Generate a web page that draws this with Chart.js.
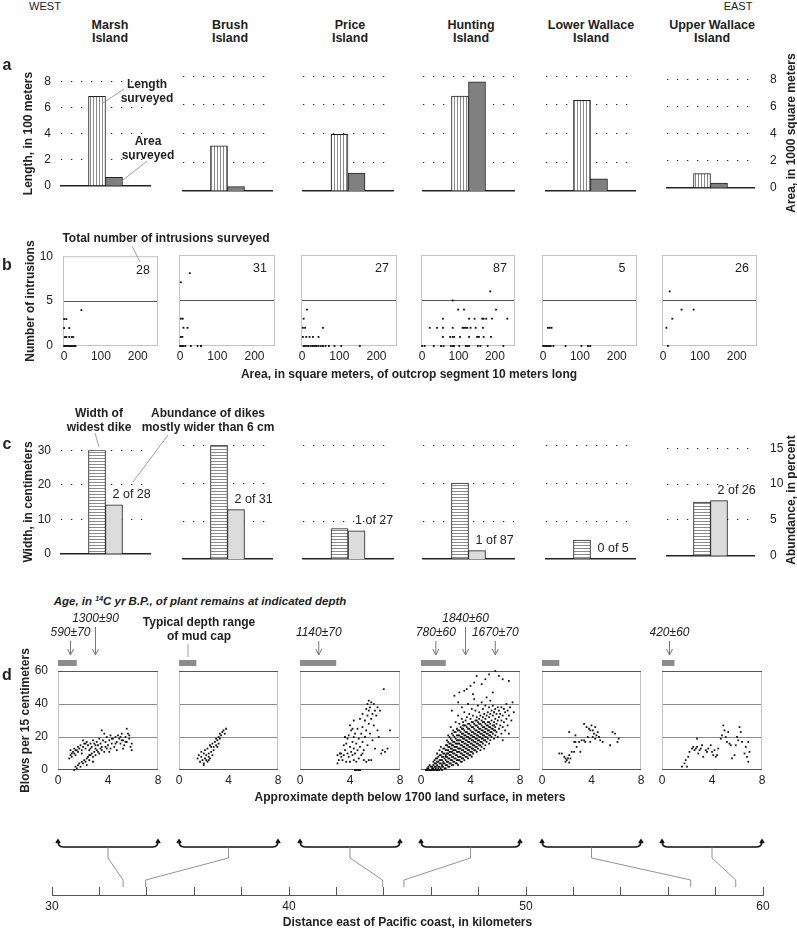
<!DOCTYPE html>
<html>
<head>
<meta charset="utf-8">
<script src="https://cdn.jsdelivr.net/npm/chart.js@4.4.1/dist/chart.umd.min.js"></script>
<style>
  body { margin: 0; width: 797px; height: 930px; position: relative; overflow: hidden; background: #fff;
         font-family: "Liberation Sans", Arial, sans-serif; color: #222; }
  .t { position: absolute; white-space: nowrap; text-align: center; font-size: 12px; line-height: 14px;
       transform: translate(-50%, -50%); }
  .b { font-weight: bold; }
  .r { transform: translate(-50%, -50%) rotate(-90deg); }
  sup { font-size: 7px; vertical-align: 4px; line-height: 0; }
  svg { position: absolute; left: 0; top: 0; }
</style>
</head>
<body>
<script>
// ---- data ----
const islands = ["Marsh Island", "Brush Island", "Price Island", "Hunting Island", "Lower Wallace Island", "Upper Wallace Island"];
const lengthSurveyed = [6.85, 3.15, 3.95, 6.6, 6.3, 1.05];   // 100 m
const areaSurveyed = [0.65, 0.3, 1.25, 7.6, 0.85, 0.35];     // 1000 m2
const totalIntrusions = [28, 31, 27, 87, 5, 26];
const widestDike = [30, 30, 8, 20, 5, 15];                   // cm
const wideDikeCount = [2, 2, 1, 1, 0, 2];
const abundancePct = [7.1, 6.5, 3.7, 1.1, 0, 7.7];
const distanceKm = [33.0, 33.95, 43.95, 44.85, 56.95, 58.85];
const mudCapDepth = [[0, 1.5], [0, 1.4], [0, 2.9], [0, 2.0], [0, 1.4], [0, 1.0]];
const ageText = [["590±70", "1300±90"], [], ["1140±70"], ["780±60", "1840±60", "1670±70"], [], ["420±60"]];
const ageDepth = [[1.0, 3.0], [], [1.5], [1.2, 3.6, 6.0], [], [0.6]];

// area of outcrop segment (m2), number of intrusions
const intrusionsMarsh = [[0,3],[6,3],[0,2],[14,2],[2,1],[6,1],[14,1],[21,1],[25,1],[0,0],[3,0],[6,0],[9,0],[12,0],[16,0],[19,0],[23,0],[27,0],[31,0],[47,4]];
const intrusionsBrush = [[2,7],[26,8],[2,3],[7,3],[9,2],[20,2],[2,1],[6,1],[0,0],[3,0],[6,0],[9,0],[14,0],[29,0],[47,0],[56,0]];
const intrusionsPrice = [[13,4],[4,3],[2,2],[8,2],[56,2],[2,1],[11,1],[20,1],[29,1],[44,1],[4,0],[7,0],[11,0],[16,0],[22,0],[27,0],[31,0],[35,0],[39,0],[44,0],[50,0],[56,0],[63,0],[72,0],[87,0],[105,0],[155,0]];
const intrusionsHunting = [[187,6],[84,5],[99,4],[115,4],[203,4],[57,3],[129,3],[144,3],[165,3],[169,3],[176,3],[192,3],[234,3],
  [21,2],[41,2],[57,2],[84,2],[111,2],[115,2],[120,2],[124,2],[133,2],[147,2],[167,2],
  [57,1],[77,1],[84,1],[88,1],[104,1],[129,1],[151,1],[156,1],[169,1],[189,1],
  [0,0],[7,0],[32,0],[52,0],[59,0],[79,0],[84,0],[88,0],[102,0],[120,0],[124,0],[129,0],[153,0],[160,0],[180,0],[223,0]];
const intrusionsLower = [[13,2],[18,2],[23,2],[0,0],[4,0],[8,0],[12,0],[16,0],[21,0],[28,0],[61,0],[104,0],[122,0],[128,0]];
const intrusionsUpper = [[18,6],[50,4],[83,4],[25,3],[9,2],[13,0]];

// depth (m), blows per 15 cm
const blowsMarsh = [[0.9,7],[1.0,9],[1.0,12],[1.1,8],[1.2,11],[1.3,10],[1.3,13],[1.4,9],[1.5,12],[1.6,14],[1.6,11],[1.7,13],[1.8,15],[1.9,12],[2.0,18],[2.0,14],[2.1,16],[2.2,13],[2.3,17],[2.4,15],[2.5,12],[2.6,16],[2.7,14],[2.8,18],[2.9,16],[3.0,13],[3.1,17],[3.2,15],[3.3,19],[3.4,16],[3.5,24],[3.5,14],[3.6,18],[3.7,22],[3.8,17],[3.9,20],[4.0,15],[4.1,18],[4.2,21],[4.3,16],[4.4,19],[4.5,14],[4.6,20],[4.7,17],[4.8,21],[4.9,19],[5.0,16],[5.0,20],[5.1,22],[5.2,18],[5.3,15],[5.4,20],[5.5,25],[5.5,17],[5.6,22],[5.7,19],[5.8,14],[5.9,12],[5.9,16],[5.2,13],[4.7,12],[4.2,13],
  [1.3,0],[1.4,2],[1.5,1],[1.6,3],[1.7,4],[1.8,2],[1.9,5],[2.0,4],[2.1,6],[2.2,5],[2.3,7],[2.4,8],[2.5,6],[2.6,9],[2.7,10],[2.8,8],[2.9,11],[3.0,9],[3.1,12],[3.3,10],[3.5,12],[3.7,11],[3.9,13],[4.1,11],[2.3,3],[2.8,5],
  [1.1,10],[1.4,12],[1.9,10],[2.2,16],[2.6,13],[3.0,15],[3.4,13],[3.8,14],[4.3,19],[4.6,16],[5.1,18],[5.4,17],[5.7,21],[3.2,11],[2.5,9]];
const blowsBrush = [[1.5,7],[1.6,9],[1.7,5],[1.8,11],[1.8,8],[1.9,6],[2.0,4],[2.0,10],[2.1,12],[2.1,7],[2.2,6],[2.2,9],[2.3,5],[2.3,13],[2.4,8],[2.4,10],[2.5,7],[2.5,15],[2.6,11],[2.6,14],[2.7,9],[2.7,16],[2.8,12],[2.8,14],[2.9,17],[3.0,15],[3.0,19],[3.1,18],[3.1,14],[3.2,20],[3.2,16],[3.3,22],[3.3,19],[3.4,21],[3.5,23],[3.6,24],[3.7,22],[3.8,25],[2.0,3],[2.4,6]];
const blowsPrice = [[3.0,4],[3.1,6],[3.0,9],[3.2,10],[3.3,8],[3.3,10],[3.4,6],[3.5,9],[3.5,15],[3.6,12],[3.7,16],[3.7,5],[3.8,19],[3.8,10],[3.9,21],[3.9,8],[4.0,14],[4.0,5],[4.1,24],[4.1,11],[4.2,25],[4.2,17],[4.2,9],[4.3,30],[4.3,20],[4.3,13],[4.3,6],[4.4,0],[4.5,0],[4.6,0],[4.7,0],[4.8,0],[4.4,22],[4.4,10],[4.5,16],[4.5,5],[4.6,25],[4.6,12],[4.7,19],[4.7,7],[4.8,31],[4.8,14],[4.9,22],[4.9,9],[5.0,34],[5.0,26],[5.0,17],[5.1,12],[5.1,6],[5.2,30],[5.2,20],[5.3,37],[5.3,24],[5.3,5],[5.4,40],[5.4,33],[5.4,15],[5.5,42],[5.5,36],[5.5,28],[5.5,6],[5.6,38],[5.6,22],[5.7,41],[5.7,31],[5.7,6],[5.8,34],[5.8,18],[5.9,40],[5.9,27],[6.0,36],[6.0,13],[6.1,33],[6.2,38],[6.3,20],[6.4,36],[6.5,10],[6.6,12],[6.7,49],[6.8,11],[7.0,13],[7.2,24],[6.2,24],[5.0,10],[4.0,27],[3.6,20]];
const blowsHunting = [[0.4,0],[0.5,0],[0.6,0],[0.7,0],[0.8,0],[0.9,0],[1.0,0],[1.1,0],[1.2,0],[1.3,0],[1.4,0],[1.5,0],[1.7,0],[0.6,1],[0.8,2],[0.9,1],[1.0,3],[1.1,2],[1.2,4],[0.7,3],
  [1.1,6],[1.2,1],[1.3,3],[1.3,7],[1.4,2],[1.4,5],[1.5,4],[1.5,9],[1.6,1],[1.6,6],[1.7,3],[1.7,8],[1.7,11],[1.8,2],[1.8,5],[1.8,10],[1.9,4],[1.9,7],[1.9,13],[2.0,1],[2.0,6],[2.0,9],[2.0,15],[1.3,10],[1.5,12],[1.6,14],
  [2.1,3],[2.1,8],[2.1,12],[2.1,18],[2.2,5],[2.2,10],[2.2,14],[2.2,21],[2.3,2],[2.3,7],[2.3,11],[2.3,16],[2.4,4],[2.4,9],[2.4,13],[2.4,19],[2.4,26],[2.5,6],[2.5,11],[2.5,15],[2.5,22],[2.6,3],[2.6,8],[2.6,12],[2.6,17],[2.6,24],[2.7,5],[2.7,10],[2.7,14],[2.7,20],[2.8,7],[2.8,12],[2.8,16],[2.8,23],[2.8,29],[2.9,4],[2.9,9],[2.9,14],[2.9,18],[2.9,25],[3.0,6],[3.0,11],[3.0,16],[3.0,21],[3.0,33],
  [3.1,8],[3.1,13],[3.1,18],[3.1,24],[3.1,28],[3.2,5],[3.2,10],[3.2,15],[3.2,20],[3.2,26],[3.3,7],[3.3,12],[3.3,17],[3.3,22],[3.3,31],[3.3,38],[3.4,9],[3.4,14],[3.4,19],[3.4,25],[3.4,29],[3.5,6],[3.5,11],[3.5,16],[3.5,21],[3.5,27],[3.5,35],[3.6,8],[3.6,13],[3.6,18],[3.6,23],[3.6,30],[3.7,10],[3.7,15],[3.7,20],[3.7,26],[3.7,32],[3.8,7],[3.8,12],[3.8,17],[3.8,22],[3.8,28],[3.8,40],[3.9,9],[3.9,14],[3.9,19],[3.9,25],[3.9,34],[4.0,11],[4.0,16],[4.0,21],[4.0,27],[4.0,31],
  [4.1,8],[4.1,13],[4.1,18],[4.1,23],[4.1,29],[4.1,37],[4.2,10],[4.2,15],[4.2,20],[4.2,26],[4.2,33],[4.3,12],[4.3,17],[4.3,22],[4.3,28],[4.3,43],[4.4,14],[4.4,19],[4.4,24],[4.4,30],[4.4,36],[4.5,11],[4.5,16],[4.5,21],[4.5,27],[4.5,32],[4.6,13],[4.6,18],[4.6,23],[4.6,29],[4.6,39],[4.7,15],[4.7,20],[4.7,25],[4.7,31],[4.7,35],[4.8,12],[4.8,17],[4.8,22],[4.8,28],[4.8,33],[4.9,14],[4.9,19],[4.9,24],[4.9,30],[4.9,41],[5.0,16],[5.0,21],[5.0,26],[5.0,32],[5.0,37],
  [5.1,13],[5.1,18],[5.1,23],[5.1,29],[5.1,34],[5.2,15],[5.2,20],[5.2,25],[5.2,31],[5.2,39],[5.3,17],[5.3,22],[5.3,27],[5.3,33],[5.3,44],[5.4,19],[5.4,24],[5.4,29],[5.4,35],[5.5,16],[5.5,21],[5.5,26],[5.5,32],[5.5,38],[5.6,18],[5.6,23],[5.6,28],[5.6,34],[5.6,42],[5.7,20],[5.7,25],[5.7,30],[5.7,36],[5.8,22],[5.8,27],[5.8,33],[5.8,39],[5.9,19],[5.9,24],[5.9,29],[5.9,35],[6.0,21],[6.0,26],[6.0,31],[6.0,37],
  [6.1,23],[6.1,28],[6.1,34],[6.2,20],[6.2,30],[6.2,38],[6.3,25],[6.3,32],[6.3,36],[6.4,27],[6.4,34],[6.5,22],[6.5,30],[6.5,38],[6.6,26],[6.6,33],[6.7,29],[6.7,37],[6.8,24],[6.8,35],[6.9,31],[6.9,40],[7.0,27],[7.0,36],[7.1,33],[7.2,38],[7.3,30],[7.4,41],[7.5,35],[6.6,18],[7.1,22],
  [2.7,45],[3.1,47],[3.5,48],[3.7,49],[4.0,51],[4.3,53],[4.5,57],[4.9,52],[5.2,55],[5.5,58],[6.0,60],[6.3,57],[6.6,55],[7.1,54],[2.5,36],[3.0,41],[4.2,46],[5.8,47],
  [0.5,1],[0.6,2],[0.8,0],[0.9,2],[1.0,1],[1.0,5],[1.1,4],[1.2,2],[1.2,7],[1.3,5],[1.4,1],[1.4,8],[1.5,2],[1.5,6],[1.6,4],[1.6,9],[1.7,2],[1.7,6],[1.8,4],[1.8,8],[1.8,13],[1.9,1],[1.9,10],[2.0,3],[2.0,8],[2.0,12],
  [2.1,5],[2.1,10],[2.1,15],[2.2,2],[2.2,7],[2.2,12],[2.2,17],[2.3,4],[2.3,9],[2.3,14],[2.3,20],[2.4,6],[2.4,11],[2.4,16],[2.5,3],[2.5,8],[2.5,13],[2.5,18],[2.6,5],[2.6,10],[2.6,15],[2.6,21],[2.7,7],[2.7,12],[2.7,17],[2.7,23],[2.8,4],[2.8,9],[2.8,14],[2.8,19],[2.9,6],[2.9,11],[2.9,16],[2.9,21],[3.0,3],[3.0,8],[3.0,13],[3.0,18],[3.0,24],
  [3.1,6],[3.1,11],[3.1,16],[3.1,21],[3.2,8],[3.2,13],[3.2,18],[3.2,23],[3.3,5],[3.3,10],[3.3,15],[3.3,20],[3.3,25],[3.4,7],[3.4,12],[3.4,17],[3.4,22],[3.4,27],[3.5,9],[3.5,14],[3.5,19],[3.5,24],[3.6,11],[3.6,16],[3.6,21],[3.6,27],[3.7,8],[3.7,13],[3.7,18],[3.7,23],[3.8,10],[3.8,15],[3.8,20],[3.8,25],[3.9,12],[3.9,17],[3.9,22],[3.9,28],[4.0,9],[4.0,14],[4.0,19],[4.0,24],
  [4.1,11],[4.1,16],[4.1,21],[4.1,26],[4.2,13],[4.2,18],[4.2,23],[4.2,29],[4.3,15],[4.3,20],[4.3,25],[4.4,12],[4.4,17],[4.4,22],[4.4,27],[4.5,14],[4.5,19],[4.5,24],[4.5,30],[4.6,16],[4.6,21],[4.6,26],[4.7,18],[4.7,23],[4.7,28],[4.8,15],[4.8,20],[4.8,25],[4.9,17],[4.9,22],[4.9,27],[5.0,19],[5.0,24],[5.0,29],
  [5.1,21],[5.1,26],[5.2,18],[5.2,23],[5.2,28],[5.3,20],[5.3,25],[5.4,22],[5.4,27],[5.5,24],[5.5,29],[5.6,21],[5.6,26],[5.7,23],[5.8,25],[5.9,27],[6.0,24]];
const blowsLower = [[1.4,10],[1.6,10],[1.8,8],[1.9,7],[1.9,5],[2.0,6],[2.1,7],[2.2,4.5],[2.2,9],[2.3,7],[2.4,11],[2.2,23],[2.6,11],[2.6,17],[2.7,17],[2.7,21],[2.8,14],[3.0,17],[3.1,11],[3.2,18],[3.4,18],[3.4,28],[3.5,17],[3.6,26],[3.7,20],[3.8,25],[3.9,24],[3.9,17],[4.0,27],[4.1,24],[4.1,20],[4.2,22],[4.3,26],[4.3,19],[4.4,21],[4.5,23],[4.6,20],[4.7,18],[4.9,17],[5.5,15],[5.7,23],[5.9,22],[6.1,17],[6.2,19]];
const blowsUpper = [[1.6,2],[1.8,4],[2.0,2],[1.9,6],[2.1,8],[2.2,11],[2.4,13],[2.5,14],[2.6,12],[2.8,19],[2.8,14],[2.9,10],[3.1,13],[3.2,15],[3.3,8],[3.5,12],[3.6,11],[3.7,13],[3.9,15],[4.0,11],[4.1,9],[4.3,8],[4.4,9],[4.5,13],[4.7,19],[4.8,21],[4.9,27],[5.0,24],[5.1,20],[5.2,17],[5.3,23],[5.5,15],[5.6,7],[5.8,9],[5.9,15],[6.0,20],[6.2,26],[6.3,23],[6.4,17],[6.6,10],[6.7,14],[6.8,8],[6.9,17],[6.9,5],[7.0,11],[3.0,12],[2.7,13],[4.2,12],[5.4,16],[6.1,18]];

const intrusions = [intrusionsMarsh, intrusionsBrush, intrusionsPrice, intrusionsHunting, intrusionsLower, intrusionsUpper];
const blows = [blowsMarsh, blowsBrush, blowsPrice, blowsHunting, blowsLower, blowsUpper];

// ---- layout (page pixels of each plot area) ----
const colA = [[61,89],[183,89],[303,90],[423,91],[546,89],[667,87]];
const colB = [[63,95],[179,96],[301,96],[421,94],[542,95],[662,95]];
const colD = [[58,100],[179,99],[300,100],[421,99],[542,99],[662,100]];
const FONT = '"Liberation Sans", Arial, sans-serif';
const SIDE = 12;

Chart.defaults.font.family = FONT;
Chart.defaults.font.size = 12;
Chart.defaults.color = '#222';
Chart.defaults.animation = false;
Chart.defaults.events = [];
Chart.defaults.plugins.legend.display = false;
Chart.defaults.plugins.tooltip.enabled = false;

function mount(x, y, w, h, leftW, rightW, bottomH, padTop) {
  const div = document.createElement('div');
  div.style.cssText = `position:absolute;left:${x - SIDE - leftW}px;top:${y - padTop}px;` +
    `width:${SIDE + leftW + w + rightW + SIDE}px;height:${padTop + h + bottomH + SIDE}px`;
  const cv = document.createElement('canvas');
  div.appendChild(cv);
  document.body.appendChild(div);
  return cv;
}

function hatch(vertical) {
  const c = document.createElement('canvas');
  c.width = 3; c.height = 3;
  const g = c.getContext('2d');
  g.fillStyle = '#fff'; g.fillRect(0, 0, 3, 3);
  g.fillStyle = '#8a8a8a';
  if (vertical) g.fillRect(1, 0, 1, 3); else g.fillRect(0, 1, 3, 1);
  return g.createPattern(c, 'repeat');
}
const vHatch = hatch(true), hHatch = hatch(false);

function leftAxis(min, max, step, show, title, gridColor) {
  return {
    min, max,
    ticks: { stepSize: step, display: show, padding: 10 },
    grid: { color: gridColor, lineWidth: 1, drawTicks: false },
    border: { display: false },
    title: { display: show, text: title, font: { size: 12, weight: 'bold' }, padding: { top: 4, bottom: 0 } },
    afterFit: s => { s.width = show ? 44 : 0; }
  };
}
function rightAxis(min, max, step, show) {
  return {
    position: 'right', display: show, min, max,
    ticks: { stepSize: step, padding: 8 },
    grid: { display: false }, border: { display: false },
    afterFit: s => { s.width = show ? 30 : 0; }
  };
}
const dotted = min => c => (c.tick && c.tick.value === min) ? 'rgba(0,0,0,0)' : '#222';

const boxPlugin = {
  id: 'box',
  beforeDatasetsDraw(chart, args, o) {
    const { ctx, chartArea: a } = chart;
    const seg = (c, x1, y1, x2, y2) => { ctx.strokeStyle = c; ctx.beginPath(); ctx.moveTo(x1, y1); ctx.lineTo(x2, y2); ctx.stroke(); };
    ctx.save();
    ctx.lineWidth = 1;
    seg(o.side, a.left + 0.5, a.top, a.left + 0.5, a.bottom);
    seg(o.side, a.right - 0.5, a.top, a.right - 0.5, a.bottom);
    seg(o.top, a.left, a.top + 0.5, a.right, a.top + 0.5);
    seg(o.bottom, a.left, a.bottom - 0.5, a.right, a.bottom - 0.5);
    ctx.restore();
  }
};
const totalPlugin = {
  id: 'total',
  afterDraw(chart, args, o) {
    const { ctx, chartArea: a } = chart;
    ctx.save();
    ctx.font = '12.5px ' + FONT;
    ctx.fillStyle = '#222'; ctx.textAlign = 'center'; ctx.textBaseline = 'middle';
    ctx.fillText(o.text, a.right - 15, a.top + 14);
    ctx.restore();
  }
};
const countPlugin = {
  id: 'count',
  afterDatasetsDraw(chart, args, o) {
    const bar = chart.getDatasetMeta(1).data[0];
    const { ctx } = chart;
    ctx.save();
    ctx.font = '12.5px ' + FONT;
    ctx.fillStyle = '#222'; ctx.textAlign = 'left'; ctx.textBaseline = 'middle';
    ctx.fillText(o.text, bar.x - bar.width / 2 + 7, bar.y - 10);
    ctx.restore();
  }
};
const agePlugin = {
  id: 'ages',
  afterDraw(chart, args, o) {
    const { ctx, chartArea: a, scales: { x } } = chart;
    const i = o.col;
    ctx.save();
    const x0 = x.getPixelForValue(mudCapDepth[i][0]), x1 = x.getPixelForValue(mudCapDepth[i][1]);
    ctx.fillStyle = '#8c8c8c';
    ctx.fillRect(x0, a.top - 11, x1 - x0, 6);
    let prevX = -1e9, prevUp = false;
    ageDepth[i].forEach((d, k) => {
      const px = x.getPixelForValue(d);
      const up = !prevUp && px - prevX < 45;
      prevX = px; prevUp = up;
      const ty = a.top - (up ? 52 : 38);
      ctx.font = 'italic 12px ' + FONT;
      ctx.fillStyle = '#222'; ctx.textAlign = 'center'; ctx.textBaseline = 'middle';
      ctx.fillText(ageText[i][k], px, ty);
      ctx.strokeStyle = '#777'; ctx.lineWidth = 1;
      ctx.beginPath();
      ctx.moveTo(px, ty + 8); ctx.lineTo(px, a.top - 16);
      ctx.moveTo(px - 3, a.top - 22); ctx.lineTo(px, a.top - 16); ctx.lineTo(px + 3, a.top - 22);
      ctx.stroke();
    });
    ctx.restore();
  }
};
const bracePlugin = {
  id: 'braces',
  afterDraw(chart) {
    const { ctx, chartArea: a, scales: { x } } = chart;
    const off = chart.canvas.getBoundingClientRect().left;
    const yb = a.top - 40;
    ctx.save();
    colD.forEach(([cx, cw], i) => {
      const xl = cx - off, xr = cx + cw - off, xc = (xl + xr) / 2;
      ctx.strokeStyle = '#111'; ctx.lineWidth = 1.6;
      ctx.beginPath();
      ctx.moveTo(xl, yb - 6); ctx.quadraticCurveTo(xl, yb, xl + 5, yb);
      ctx.lineTo(xr - 5, yb); ctx.quadraticCurveTo(xr, yb, xr, yb - 6);
      ctx.moveTo(xl - 2, yb - 4); ctx.lineTo(xl, yb - 7); ctx.lineTo(xl + 2, yb - 4);
      ctx.moveTo(xr - 2, yb - 4); ctx.lineTo(xr, yb - 7); ctx.lineTo(xr + 2, yb - 4);
      ctx.stroke();
      const tx = x.getPixelForValue(distanceKm[i]);
      ctx.strokeStyle = '#777'; ctx.lineWidth = 0.8;
      ctx.beginPath();
      ctx.moveTo(xc, yb); ctx.lineTo(xc, a.top - 29); ctx.lineTo(tx, a.top - 7); ctx.lineTo(tx, a.top);
      ctx.stroke();
    });
    ctx.restore();
  }
};

// ---- panel a ----
islands.forEach((name, i) => {
  const [x, w] = colA[i], first = i === 0, last = i === 5;
  const cv = mount(x, 76, w, 115, first ? 44 : 0, last ? 30 : 0, 0, 12);
  new Chart(cv, {
    type: 'bar',
    data: { labels: [name], datasets: [
      { data: [lengthSurveyed[i]], yAxisID: 'y', backgroundColor: vHatch, borderColor: '#222', borderWidth: 1, barThickness: 17 },
      { data: [areaSurveyed[i]], yAxisID: 'y2', backgroundColor: '#808080', borderColor: '#222', borderWidth: 1, barThickness: 17 }
    ] },
    options: {
      responsive: true, maintainAspectRatio: false,
      layout: { padding: { left: SIDE, right: SIDE, top: 12, bottom: SIDE } },
      scales: {
        x: { ticks: { display: false }, grid: { display: false, drawTicks: false }, border: { display: true, color: '#222', width: 1.5 }, afterFit: s => { s.height = 0; } },
        y: Object.assign(leftAxis(0, 8, 2, first, 'Length, in 100 meters', dotted(0)), { border: { display: false, dash: [1.3, 8.7] } }),
        y2: rightAxis(0, 8, 2, last)
      }
    }
  });
});

// ---- panel b ----
islands.forEach((name, i) => {
  const [x, w] = colB[i], first = i === 0;
  const cv = mount(x, 255, w, 91, first ? 44 : 0, 0, 18, 16);
  new Chart(cv, {
    type: 'scatter',
    data: { datasets: [{ data: intrusions[i].map(([a, n]) => ({ x: a, y: n })), pointStyle: 'rect', pointRadius: 1.3, backgroundColor: '#111', borderWidth: 0, clip: false }] },
    options: {
      responsive: true, maintainAspectRatio: false,
      layout: { padding: { left: SIDE, right: SIDE, top: 16, bottom: SIDE } },
      scales: {
        x: { type: 'linear', min: -3, max: 255,
             afterBuildTicks: s => { s.ticks = [0, 100, 200].map(value => ({ value })); },
             ticks: { padding: 3 }, grid: { display: false, drawTicks: false }, border: { display: false },
             afterFit: s => { s.height = 18; } },
        y: leftAxis(0, 10, 5, first, 'Number of intrusions', c => (c.tick && c.tick.value === 5) ? '#555' : 'rgba(0,0,0,0)')
      },
      plugins: { box: { side: '#c4c4c4', top: '#c4c4c4', bottom: '#c4c4c4' }, total: { text: String(totalIntrusions[i]) } }
    },
    plugins: [boxPlugin, totalPlugin]
  });
});

// ---- panel c ----
islands.forEach((name, i) => {
  const [x, w] = colA[i], first = i === 0, last = i === 5;
  const cv = mount(x, 445, w, 114, first ? 44 : 0, last ? 30 : 0, 0, 12);
  new Chart(cv, {
    type: 'bar',
    data: { labels: [name], datasets: [
      { data: [widestDike[i]], yAxisID: 'y', backgroundColor: hHatch, borderColor: '#222', borderWidth: 1, barThickness: 17 },
      { data: [abundancePct[i]], yAxisID: 'y2', backgroundColor: '#dcdcdc', borderColor: '#222', borderWidth: 1, barThickness: 17 }
    ] },
    options: {
      responsive: true, maintainAspectRatio: false,
      layout: { padding: { left: SIDE, right: SIDE, top: 12, bottom: SIDE } },
      scales: {
        x: { ticks: { display: false }, grid: { display: false, drawTicks: false }, border: { display: true, color: '#222', width: 1.5 }, afterFit: s => { s.height = 0; } },
        y: Object.assign(leftAxis(0, 30, 10, first, 'Width, in centimeters', dotted(0)), { border: { display: false, dash: [1.3, 8.7] } }),
        y2: rightAxis(0, 15, 5, last)
      },
      plugins: { count: { text: `${wideDikeCount[i]} of ${totalIntrusions[i]}` } }
    },
    plugins: [countPlugin]
  });
});

// ---- panel d ----
islands.forEach((name, i) => {
  const [x, w] = colD[i], first = i === 0;
  const cv = mount(x, 671, w, 99, first ? 44 : 0, 0, 18, 62);
  new Chart(cv, {
    type: 'scatter',
    data: { datasets: [{ data: blows[i].map(([d, b]) => ({ x: d, y: b })), pointStyle: 'rect', pointRadius: 1.25, backgroundColor: '#111', borderWidth: 0, clip: false }] },
    options: {
      responsive: true, maintainAspectRatio: false,
      layout: { padding: { left: SIDE, right: SIDE, top: 62, bottom: SIDE } },
      scales: {
        x: { type: 'linear', min: 0, max: 8, ticks: { stepSize: 4, padding: 3 }, grid: { display: false, drawTicks: false }, border: { display: false },
             afterFit: s => { s.height = 18; } },
        y: leftAxis(0, 60, 20, first, 'Blows per 15 centimeters', c => (c.tick && (c.tick.value === 20 || c.tick.value === 40)) ? '#8a8a8a' : 'rgba(0,0,0,0)')
      },
      plugins: { box: { side: '#c4c4c4', top: '#555', bottom: '#555' }, ages: { col: i } }
    },
    plugins: [boxPlugin, agePlugin]
  });
});

// ---- distance axis ----
(() => {
  const div = document.createElement('div');
  div.style.cssText = 'position:absolute;left:40px;top:820px;width:740px;height:110px';
  const cv = document.createElement('canvas');
  div.appendChild(cv);
  document.body.appendChild(div);
  new Chart(cv, {
    type: 'scatter',
    data: { datasets: [] },
    options: {
      responsive: true, maintainAspectRatio: false,
      layout: { padding: { left: 12, right: 17, top: 67, bottom: 0 } },
      scales: {
        x: { type: 'linear', min: 30, max: 60,
             ticks: { stepSize: 2, autoSkip: false, maxRotation: 0, padding: 4, callback: v => v % 10 === 0 ? v : '' },
             grid: { color: '#555', drawTicks: false }, border: { display: true, color: '#555' },
             title: { display: true, text: 'Distance east of Pacific coast, in kilometers', font: { size: 12, weight: 'bold' }, padding: 0 },
             afterFit: s => { s.height = 35; } },
        y: { display: false, min: 0, max: 1 }
      }
    },
    plugins: [bracePlugin]
  });
})();

// ---- free text ----
function label(html, x, y, cls) {
  const d = document.createElement('div');
  d.className = 't ' + (cls || '');
  d.style.left = x + 'px'; d.style.top = y + 'px';
  d.innerHTML = html;
  document.body.appendChild(d);
  return d;
}
label('WEST', 45, 6).style.fontSize = '11px';
label('EAST', 738, 6).style.fontSize = '11px';
[110, 230, 350, 471, 591, 712].forEach((cx, i) => {
  const n = islands[i], k = n.lastIndexOf(' ');
  const d = label(n.slice(0, k) + '<br>' + n.slice(k + 1), cx, 32, 'b');
  d.style.fontSize = '12.5px'; d.style.lineHeight = '13px';
});
[['a', 65], ['b', 265], ['c', 444], ['d', 675]].forEach(([s, y]) => { label(s, 7, y, 'b').style.fontSize = '16px'; });
label('Length<br>surveyed', 147, 91, 'b');
label('Area<br>surveyed', 148, 148, 'b');
label('Area, in 1000 square meters', 791, 133, 'b r');
label('Total number of intrusions surveyed', 166, 238, 'b');
label('Area, in square meters, of outcrop segment 10 meters long', 409, 374, 'b');
label('Width of<br>widest dike', 99, 420, 'b');
label('Abundance of dikes<br>mostly wider than 6 cm', 208, 420, 'b');
label('Abundance, in percent', 791, 500, 'b r');
label('<i>Age, in <sup>14</sup>C yr B.P., of plant remains at indicated depth</i>', 200, 601, 'b').style.fontSize = '11.5px';
label('Typical depth range<br>of mud cap', 199, 629, 'b');
label('Approximate depth below 1700 land surface, in meters', 410, 797, 'b');

// leader lines
const svgNS = 'http://www.w3.org/2000/svg';
const svg = document.createElementNS(svgNS, 'svg');
svg.setAttribute('width', 797); svg.setAttribute('height', 930);
[[103,103,124,89],[118,184,147,161],[132,246,140,262],[95,433,99,447],[168,435,133,482],[188,644,188,657]].forEach(([x1,y1,x2,y2]) => {
  const l = document.createElementNS(svgNS, 'line');
  l.setAttribute('x1', x1); l.setAttribute('y1', y1); l.setAttribute('x2', x2); l.setAttribute('y2', y2);
  l.setAttribute('stroke', '#888'); l.setAttribute('stroke-width', '0.8');
  svg.appendChild(l);
});
document.body.appendChild(svg);
</script>
</body>
</html>
